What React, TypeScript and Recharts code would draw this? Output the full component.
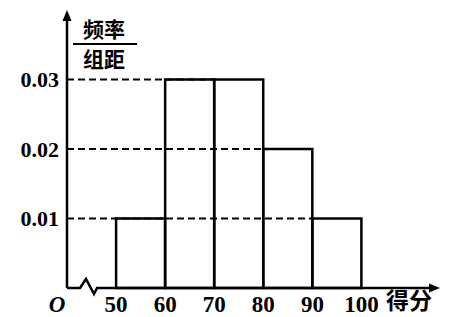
import { ComposedChart, Bar, XAxis, YAxis, ReferenceLine } from 'recharts';

// histogram bins (score groups) and frequency / group width
const binStarts = [50, 60, 70, 80, 90];
const binEnds = [60, 70, 80, 90, 100];
const frequency = [0.01, 0.03, 0.03, 0.02, 0.01];

const xTicks = [40, 50, 60, 70, 80, 90, 100];
const xTickLabels = ['O', '50', '60', '70', '80', '90', '100'];
const yTicks = [0.01, 0.02, 0.03];
const yTickLabels = ['0.01', '0.02', '0.03'];

const data = binStarts.map((s, i) => ({ mid: (s + binEnds[i]) / 2, freq: frequency[i] }));

// dashed guide runs from the y axis to the left edge of the right-most bar of that height
const guideEnds = yTicks.map((t) => {
  let end = binStarts[0];
  frequency.forEach((f, i) => {
    if (f === t) end = binStarts[i];
  });
  return end;
});

const numFont = '"Liberation Serif", "Times New Roman", serif';
const cjkFont = '"Noto Sans CJK SC", sans-serif';

const XAxisLine = (p: any) => {
  const { x1, y1, x2 } = p;
  const y = y1;
  return (
    <g>
      <path
        d={`M${x1},${y} L${x1 + 13},${y} L${x1 + 19},${y - 9} L${x1 + 27},${y + 6} L${x1 + 30},${y} L${x2 - 4},${y}`}
        stroke="#000"
        strokeWidth={2.5}
        fill="none"
      />
      <path d={`M${x2},${y} L${x2 - 11},${y - 4.5} L${x2 - 11},${y + 4.5} Z`} fill="#000" />
    </g>
  );
};

const YAxisLine = (p: any) => {
  const { x1, y1, y2 } = p;
  const top = Math.min(y1, y2);
  const bottom = Math.max(y1, y2);
  return (
    <g>
      <line x1={x1} y1={bottom} x2={x1} y2={top + 4} stroke="#000" strokeWidth={2.5} />
      <path d={`M${x1},${top} L${x1 - 4.5},${top + 11} L${x1 + 4.5},${top + 11} Z`} fill="#000" />
    </g>
  );
};

const XTick = (p: any) => {
  const { x, y, payload } = p;
  const idx = xTicks.indexOf(payload.value);
  const isOrigin = idx === 0;
  return (
    <text
      x={isOrigin ? x - 10 : x}
      y={y + 16}
      textAnchor="middle"
      fontFamily={numFont}
      fontWeight="bold"
      fontStyle={isOrigin ? 'italic' : 'normal'}
      fontSize={23}
      fill="#000"
    >
      {xTickLabels[idx]}
    </text>
  );
};

const YTick = (p: any) => {
  const { x, y, payload } = p;
  const idx = yTicks.indexOf(payload.value);
  return (
    <text x={x} y={y} dy="0.35em" textAnchor="end" fontFamily={numFont} fontWeight="bold" fontSize={22} fill="#000">
      {yTickLabels[idx]}
    </text>
  );
};

const YTitle = (p: any) => {
  const vb = p.viewBox;
  const left = vb.x + vb.width;
  const cx = left + 37;
  return (
    <g fontFamily={cjkFont} fontWeight="bold" fontSize={21} fill="#000">
      <text x={cx} y={vb.y + 27} textAnchor="middle">频率</text>
      <line x1={left + 6} y1={vb.y + 34} x2={left + 70} y2={vb.y + 34} stroke="#000" strokeWidth={2} />
      <text x={cx} y={vb.y + 57} textAnchor="middle">组距</text>
    </g>
  );
};

const XTitle = (p: any) => {
  const vb = p.viewBox;
  return (
    <text x={vb.x + vb.width - 54} y={vb.y + 21} fontFamily={cjkFont} fontWeight="bold" fontSize={23} fill="#000">
      得分
    </text>
  );
};

export default function App() {
  return (
    <div style={{ position: 'absolute', left: 0, top: 0, background: '#fff' }}>
      <ComposedChart
        width={456}
        height={317}
        data={data}
        barCategoryGap={0}
        margin={{ top: 10, right: 16, left: 7, bottom: 4 }}
      >
        <XAxis
          dataKey="mid"
          type="number"
          domain={[40, 116]}
          ticks={xTicks}
          axisLine={false}
          tickLine={false}
          tick={<XTick />}
          height={25}
          interval={0}
          label={<XTitle />}
        />
        <YAxis
          type="number"
          domain={[0, 0.04]}
          ticks={yTicks}
          axisLine={false}
          tickLine={false}
          tick={<YTick />}
          width={60}
          interval={0}
          label={<YTitle />}
        />
        {yTicks.map((t, i) => (
          <ReferenceLine
            key={t}
            segment={[{ x: 40, y: t }, { x: guideEnds[i], y: t }]}
            stroke="#000"
            strokeWidth={2}
            strokeDasharray="7 4"
          />
        ))}
        <Bar dataKey="freq" fill="none" stroke="#000" strokeWidth={2.5} isAnimationActive={false} />
        <ReferenceLine segment={[{ x: 40, y: 0 }, { x: 116, y: 0 }]} shape={<XAxisLine />} />
        <ReferenceLine segment={[{ x: 40, y: 0 }, { x: 40, y: 0.04 }]} shape={<YAxisLine />} />
      </ComposedChart>
    </div>
  );
}
